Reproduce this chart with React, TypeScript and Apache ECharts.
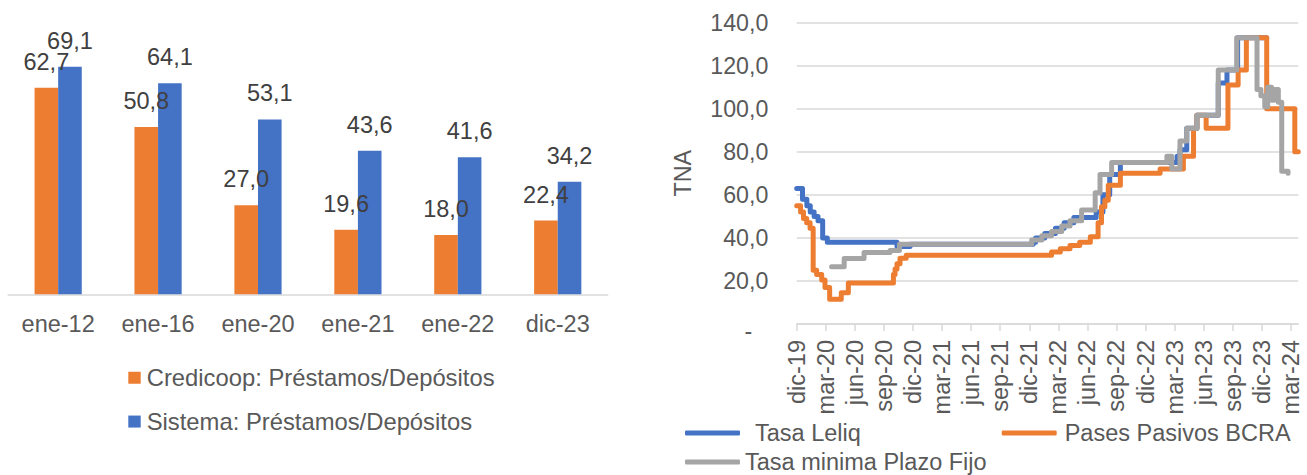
import React, { useEffect, useRef } from 'react';
import * as echarts from 'echarts';

const FONT = '"Liberation Sans", Arial, sans-serif';
const TEXT = '#595959';
const GRID = '#d9d9d9';
const ORANGE = '#ED7D31';
const BLUE = '#4472C4';
const GRAY = '#A5A5A5';

// ---------- Left chart data ----------
const barCategories = ['ene-12', 'ene-16', 'ene-20', 'ene-21', 'ene-22', 'dic-23'];
const credicoopRatio = [62.7, 50.8, 27.0, 19.6, 18.0, 22.4];
const sistemaRatio = [69.1, 64.1, 53.1, 43.6, 41.6, 34.2];
const barSeriesNames = ['Credicoop: Préstamos/Depósitos', 'Sistema: Préstamos/Depósitos'];

// ---------- Right chart data (x = months since dic-19) ----------
const quarterMonths = [0, 3, 6, 9, 12, 15, 18, 21, 24, 27, 30, 33, 36, 39, 42, 45, 48, 51];
const quarterLabels = [
  'dic-19', 'mar-20', 'jun-20', 'sep-20', 'dic-20', 'mar-21', 'jun-21', 'sep-21', 'dic-21',
  'mar-22', 'jun-22', 'sep-22', 'dic-22', 'mar-23', 'jun-23', 'sep-23', 'dic-23', 'mar-24',
];
const yTicks = [0, 20, 40, 60, 80, 100, 120, 140];

const tasaLeliq = [
  [0, 63], [0.6, 58], [1.05, 55], [1.4, 52], [1.8, 50], [2.2, 48], [2.68, 40], [3.16, 38],
  [10.35, 36], [11.7, 37], [24.4, 38], [24.65, 40], [25.6, 42], [26.7, 44.5], [27.6, 47],
  [28.6, 49.5], [30.9, 52], [31.6, 60], [32.3, 69.5], [33.4, 75], [39.25, 78], [39.55, 81],
  [40.25, 91], [41.3, 97], [43.5, 112], [44.4, 118], [45.5, 133], [48.5, 133],
];
const pasesPasivos = [
  [0, 55], [0.4, 52], [0.7, 49], [1.03, 47], [1.38, 44.5], [1.7, 25], [2.06, 23], [2.58, 20.5],
  [2.92, 17], [3.4, 11.5], [4.6, 14.5], [5.33, 19], [9.98, 23], [10.15, 25.5], [10.35, 28],
  [10.66, 30.5], [11.3, 32], [26.3, 33.5], [27.2, 35], [28.2, 36.5], [29.2, 38], [30.3, 40.5],
  [31.1, 47], [31.45, 54.5], [31.8, 57.5], [32.15, 64.5], [33.4, 70], [37.5, 72], [39.9, 78],
  [40.95, 91], [41.3, 97], [42.25, 91], [44.5, 111], [45.55, 118], [46.4, 133], [48.5, 100],
  [51.4, 80], [51.76, 80],
];
const tasaMinimaPF = [
  [3.6, 26.6], [4.9, 30.4], [6.95, 33.2], [9.63, 34.2], [10.6, 37], [24.25, 39], [25.3, 41],
  [26.3, 43], [27.35, 45.5], [28.2, 48], [29.4, 53], [30.8, 61], [31.3, 69.5], [32.5, 75],
  [38.2, 78], [38.7, 72], [39.55, 85], [40.25, 91], [41.3, 97], [43.5, 118], [45.4, 133],
  [47.5, 109], [47.9, 106], [48.3, 101], [48.6, 110], [49.0, 104], [49.3, 109], [49.7, 103],
  [50.05, 71], [50.7, 70],
];
const lineSeriesNames = ['Tasa Leliq', 'Pases Pasivos BCRA', 'Tasa minima Plazo Fijo'];

const fmt1 = (v: number) => v.toFixed(1).replace('.', ',');

function buildOption(): any {
  const txt = (size: number, color = TEXT) => ({ fontSize: size, color, fontFamily: FONT });
  const lineLegend = (name: string, left: number, top: number, pad: number) => ({
    data: [{ name, icon: 'roundRect' }],
    left,
    top,
    padding: 0,
    itemWidth: 55,
    itemHeight: 5,
    textStyle: { ...txt(23.5), padding: [0, 0, 0, pad] },
  });
  const barLabel = {
    show: true,
    position: 'top',
    distance: 14,
    formatter: (p: any) => fmt1(p.value),
    ...txt(23.5, '#404040'),
  };
  return {
    animation: false,
    backgroundColor: '#ffffff',
    grid: [
      { left: 8.2, top: 30.8, width: 599.5, height: 263.5 },
      { left: 796.7, top: 22.7, width: 501.6, height: 301.3 },
    ],
    xAxis: [
      {
        type: 'category',
        gridIndex: 0,
        data: barCategories,
        axisLine: { lineStyle: { color: GRID, width: 1.5 } },
        axisTick: { show: false },
        axisLabel: { ...txt(23.5), margin: 18 },
      },
      {
        type: 'value',
        gridIndex: 1,
        min: 0,
        max: 51.76,
        interval: 3,
        axisLine: { show: true, onZero: false, lineStyle: { color: GRID, width: 1.5 } },
        axisTick: { show: true, length: 7, customValues: quarterMonths, lineStyle: { color: GRID, width: 1.5 } },
        axisLabel: {
          ...txt(23.5),
          rotate: 90,
          margin: 16,
          customValues: quarterMonths,
          formatter: (v: number) => {
            const i = quarterMonths.indexOf(Math.round(v));
            return i >= 0 ? quarterLabels[i] : '';
          },
        },
        splitLine: { show: false },
      },
    ],
    yAxis: [
      { type: 'value', gridIndex: 0, min: 0, max: 80, show: false },
      {
        type: 'value',
        gridIndex: 1,
        min: 0,
        max: 140,
        interval: 20,
        axisLine: { show: false },
        axisTick: { show: false },
        splitLine: { lineStyle: { color: GRID, width: 1.5 } },
        axisLabel: {
          ...txt(23.2),
          margin: 28.4,
          customValues: yTicks,
          formatter: (v: number) => (v === 0 ? '{z|-}' : fmt1(v)),
          rich: { z: { ...txt(23.2), padding: [14, 16, 0, 0] } },
        },
      },
    ],
    legend: [
      {
        data: barSeriesNames,
        orient: 'vertical',
        left: 128.3,
        top: 365.75,
        padding: 0,
        itemWidth: 12.4,
        itemHeight: 12,
        itemGap: 19.8,
        icon: 'rect',
        textStyle: { ...txt(23.8), padding: [0, 0, 0, 1] },
      },
      lineLegend(lineSeriesNames[0], 685, 421, 10),
      lineLegend(lineSeriesNames[1], 1001.7, 421, 3),
      lineLegend(lineSeriesNames[2], 685, 450, 0),
    ],
    graphic: [
      {
        type: 'text',
        x: 683,
        y: 173.3,
        rotation: Math.PI / 2,
        style: { text: 'TNA', fontSize: 23.3, fontFamily: FONT, fill: TEXT, align: 'center', verticalAlign: 'middle' },
      },
    ],
    series: [
      {
        type: 'bar',
        name: barSeriesNames[0],
        xAxisIndex: 0,
        yAxisIndex: 0,
        data: credicoopRatio,
        barWidth: 23.6,
        barGap: '0%',
        itemStyle: { color: ORANGE },
        label: barLabel,
      },
      {
        type: 'bar',
        name: barSeriesNames[1],
        xAxisIndex: 0,
        yAxisIndex: 0,
        data: sistemaRatio,
        barWidth: 23.6,
        barGap: '0%',
        itemStyle: { color: BLUE },
        label: barLabel,
      },
      ...[
        { name: lineSeriesNames[0], data: tasaLeliq, color: BLUE },
        { name: lineSeriesNames[1], data: pasesPasivos, color: ORANGE },
        { name: lineSeriesNames[2], data: tasaMinimaPF, color: GRAY },
      ].map((s) => ({
        type: 'line',
        name: s.name,
        xAxisIndex: 1,
        yAxisIndex: 1,
        data: s.data,
        step: 'end',
        symbol: 'none',
        showSymbol: false,
        itemStyle: { color: s.color },
        lineStyle: { color: s.color, width: 5, cap: 'round', join: 'round' },
      })),
    ],
  };
}

export default function App() {
  const ref = useRef<HTMLDivElement>(null);
  useEffect(() => {
    const chart = echarts.init(ref.current!, null, { renderer: 'svg' });
    chart.setOption(buildOption());
    return () => chart.dispose();
  }, []);
  return (
    <div
      ref={ref}
      style={{ position: 'absolute', left: 0, top: 0, width: 1307, height: 475, background: '#fff' }}
    />
  );
}
